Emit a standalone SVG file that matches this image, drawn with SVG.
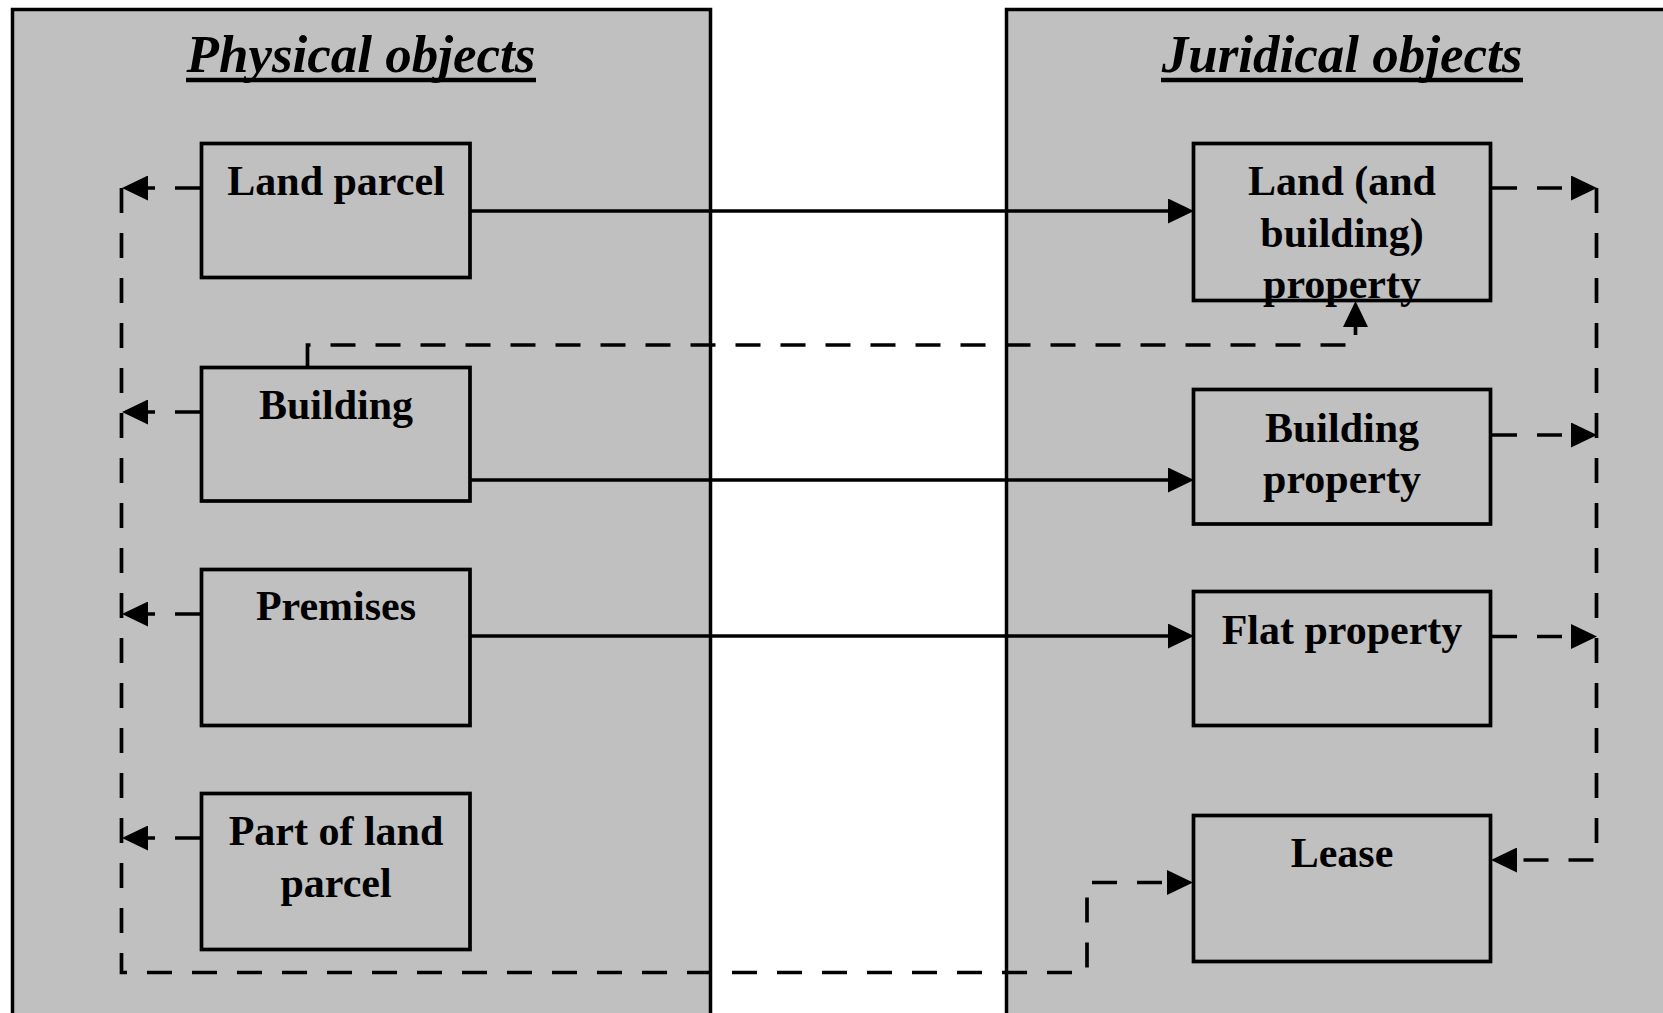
<svg xmlns="http://www.w3.org/2000/svg" width="1663" height="1013" viewBox="0 0 1663 1013">
<style>
.panel{fill:#c0c0c0;stroke:#000;stroke-width:3.5}
.box{fill:#c0c0c0;stroke:#000;stroke-width:3.7}
.title{font-family:"Liberation Serif","Times New Roman",serif;font-weight:bold;font-style:italic;font-size:53px;text-anchor:middle;fill:#000}
.lbl{font-family:"Liberation Serif","Times New Roman",serif;font-weight:bold;font-size:42px;text-anchor:middle;fill:#000}
.solid{fill:none;stroke:#000;stroke-width:3.6;marker-end:url(#ah)}
.dash{fill:none;stroke:#000;stroke-width:3.7;stroke-dasharray:25 20;marker-end:url(#ah)}
.ul{stroke:#000;stroke-width:4.5}
</style>
<defs>
<marker id="ah" markerUnits="userSpaceOnUse" viewBox="0 0 26 25" refX="0" refY="12.5" markerWidth="26" markerHeight="25" orient="auto">
<path d="M0,0 L26,12.5 L0,25 Z" fill="#000"/>
</marker>
</defs>
<rect width="1663" height="1013" fill="#fff"/>
<g id="panel-physical">
<rect class="panel" x="12.5" y="9.5" width="698" height="1030"/>
<text class="title" x="361" y="72">Physical objects</text>
<line class="ul" x1="186" y1="80" x2="536" y2="80"/>
</g>
<g id="panel-juridical">
<rect class="panel" x="1006.5" y="9.5" width="700" height="1030"/>
<text class="title" x="1342" y="72">Juridical objects</text>
<line class="ul" x1="1161" y1="80" x2="1523" y2="80"/>
</g>
<g id="land-parcel">
<rect class="box" x="201.5" y="143.5" width="268.5" height="134"/>
<text class="lbl" x="336" y="195">Land parcel</text>
</g>
<g id="building">
<rect class="box" x="201.5" y="367.5" width="268.5" height="133.5"/>
<text class="lbl" x="336" y="419">Building</text>
</g>
<g id="premises">
<rect class="box" x="201.5" y="569.5" width="268.5" height="156"/>
<text class="lbl" x="336" y="620">Premises</text>
</g>
<g id="part-of-land-parcel">
<rect class="box" x="201.5" y="793.5" width="268.5" height="156"/>
<text class="lbl" x="336" y="845">Part of land</text>
<text class="lbl" x="336" y="897">parcel</text>
</g>
<g id="land-building-property">
<rect class="box" x="1193.5" y="143.5" width="297" height="157"/>
<text class="lbl" x="1342" y="195">Land (and</text>
<text class="lbl" x="1342" y="247">building)</text>
<text class="lbl" x="1342" y="298">property</text>
</g>
<g id="building-property">
<rect class="box" x="1193.5" y="389.5" width="297" height="134.5"/>
<text class="lbl" x="1342" y="442">Building</text>
<text class="lbl" x="1342" y="493">property</text>
</g>
<g id="flat-property">
<rect class="box" x="1193.5" y="591.5" width="297" height="134"/>
<text class="lbl" x="1342" y="644">Flat property</text>
</g>
<g id="lease">
<rect class="box" x="1193.5" y="815.5" width="297" height="146"/>
<text class="lbl" x="1342" y="867">Lease</text>
</g>
<g id="connectors">
<path class="solid" d="M470,211 H1168"/>
<path class="solid" d="M470,480 H1168"/>
<path class="solid" d="M470,636 H1168"/>
<path class="dash" d="M307.5,367 V345 H1355.5 V327"/>
<path class="dash" d="M200,188 H148"/>
<path class="dash" d="M200,412 H148"/>
<path class="dash" d="M200,614 H148"/>
<path class="dash" d="M200,838 H148"/>
<path class="dash" d="M121.5,188 V972.5 H1087 V882.5 H1167"/>
<path class="dash" d="M1492,188 H1571"/>
<path class="dash" d="M1492,435 H1571"/>
<path class="dash" d="M1492,636.5 H1571"/>
<path class="dash" d="M1596.5,188 V860 H1517"/>
</g>
</svg>
